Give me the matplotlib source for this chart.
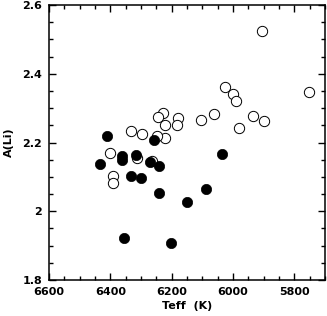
import matplotlib
matplotlib.use("Agg")
import matplotlib.pyplot as plt
from matplotlib.ticker import MultipleLocator

# open circles
teff_open = [5906, 5752, 6026, 6000, 5990, 6062, 5935, 5899, 5981, 6104,
             6179, 6183, 6228, 6245, 6222, 6222, 6248, 6333, 6297, 6401,
             6313, 6264, 6391, 6391]
ali_open = [2.524, 2.347, 2.361, 2.341, 2.321, 2.283, 2.277, 2.263, 2.242, 2.265,
            2.271, 2.251, 2.286, 2.274, 2.251, 2.213, 2.219, 2.233, 2.225, 2.169,
            2.155, 2.146, 2.103, 2.082]

# filled circles
teff_fill = [6411, 6258, 6434, 6362, 6362, 6316, 6271, 6241, 6333, 6300,
             6241, 6355, 6202, 6150, 6088, 6036]
ali_fill = [2.219, 2.207, 2.137, 2.160, 2.148, 2.164, 2.143, 2.132, 2.103, 2.097,
            2.053, 1.922, 1.908, 2.027, 2.065, 2.167]

plt.rcParams['font.family'] = ['DejaVu Sans']
plt.rcParams['font.weight'] = 'bold'

fig = plt.figure(figsize=(3.27, 3.16), dpi=100)
ax = fig.add_axes([0.150, 0.114, 0.844, 0.870])

ax.scatter(teff_open, ali_open, s=55, facecolors='white', edgecolors='black',
           linewidths=0.7, zorder=2)
ax.scatter(teff_fill, ali_fill, s=55, c='black', edgecolors='black',
           linewidths=0.5, zorder=3)

ax.set_xlim(6600, 5700)
ax.set_ylim(1.8, 2.6)
ax.xaxis.set_major_locator(MultipleLocator(200))
ax.xaxis.set_minor_locator(MultipleLocator(50))
ax.yaxis.set_minor_locator(MultipleLocator(0.05))
ax.set_yticks([1.8, 2.0, 2.2, 2.4, 2.6])
ax.set_yticklabels(['1.8', '2', '2.2', '2.4', '2.6'])

ax.tick_params(which='both', direction='in', top=True, right=True,
               labelsize=8, width=1.0)
ax.tick_params(axis='x', pad=5)
ax.tick_params(axis='y', pad=5)
ax.tick_params(which='major', length=5)
ax.tick_params(which='minor', length=3)
for sp in ax.spines.values():
    sp.set_linewidth(1.1)

ax.set_xlabel('Teff  (K)', fontsize=8, fontweight='bold', labelpad=3)
ax.set_ylabel('A(Li)', fontsize=8, fontweight='bold', labelpad=6)

fig.savefig('out.png', dpi=100)
